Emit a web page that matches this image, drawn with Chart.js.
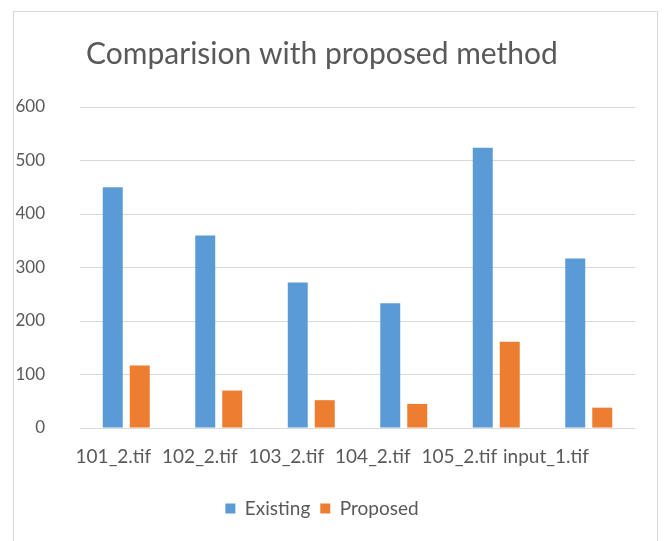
<!DOCTYPE html>
<html lang="en">
<head>
  <meta charset="UTF-8">
  <title>Comparision with proposed method</title>
  <script src="https://cdn.jsdelivr.net/npm/chart.js"></script>
  <style>
    body { margin: 0; background: #fff; overflow: hidden; }
    .frame { position: absolute; left: 13px; top: 11px; width: 643px; height: 600px; border: 1px solid #d9d9d9; }
    .wrap { position: absolute; left: 0; top: 12px; width: 664px; height: 529px; }
  </style>
</head>
<body>
  <div class="frame"></div>
  <div class="wrap"><canvas id="cmpChart"></canvas></div>
  <script>
    const labels = ['101_2.tif', '102_2.tif', '103_2.tif', '104_2.tif', '105_2.tif', 'input_1.tif'];
    const existing = [450, 360, 272, 233, 524, 317];
    const proposed = [117, 70, 52, 45, 161, 38];
    const yTicks = [0, 100, 200, 300, 400, 500, 600];

    const textColor = '#595959';
    const fontFamily = 'Lato, "Open Sans", sans-serif';

    const ctx = document.getElementById('cmpChart').getContext('2d');
    new Chart(ctx, {
      type: 'bar',
      data: {
        labels: labels,
        datasets: [
          { label: 'Existing', data: existing, backgroundColor: '#5b9bd5' },
          { label: 'Proposed', data: proposed, backgroundColor: '#ed7d31' }
        ]
      },
      options: {
        responsive: true,
        maintainAspectRatio: false,
        animation: false,
        layout: { padding: { left: 9, right: 29, top: 0, bottom: 13 } },
        datasets: { bar: { categoryPercentage: 0.584, barPercentage: 0.74 } },
        plugins: {
          title: {
            display: true,
            text: 'Comparision with proposed method',
            color: textColor,
            font: { family: fontFamily, size: 30, weight: 'normal' },
            padding: { top: 24, bottom: 35 }
          },
          legend: {
            position: 'bottom',
            labels: {
              color: textColor,
              font: { family: fontFamily, size: 19 },
              boxWidth: 10,
              boxHeight: 10,
              padding: 10
            }
          },
          tooltip: { enabled: false }
        },
        scales: {
          x: { display: false },
          // label row of the picture sits slightly left of the bar groups
          xl: {
            type: 'linear',
            position: 'bottom',
            offset: false,
            min: -0.386,
            max: 6.03,
            grid: { display: false, drawTicks: false, offset: false },
            border: { display: false },
            afterBuildTicks: s => { s.ticks = labels.map((l, i) => ({ value: i })); },
            ticks: {
              color: textColor,
              font: { family: fontFamily, size: 19 },
              padding: 17,
              maxRotation: 0,
              autoSkip: false,
              callback: v => labels[v]
            },
            afterFit: s => { s.height = 61; }
          },
          y: {
            min: yTicks[0],
            max: yTicks[yTicks.length - 1],
            grid: { color: '#d9d9d9', drawTicks: false },
            border: { display: false },
            ticks: { stepSize: 100, color: textColor, font: { family: fontFamily, size: 17 }, padding: 35 },
            afterFit: s => { s.width = 71; }
          }
        }
      }
    });
  </script>
</body>
</html>
